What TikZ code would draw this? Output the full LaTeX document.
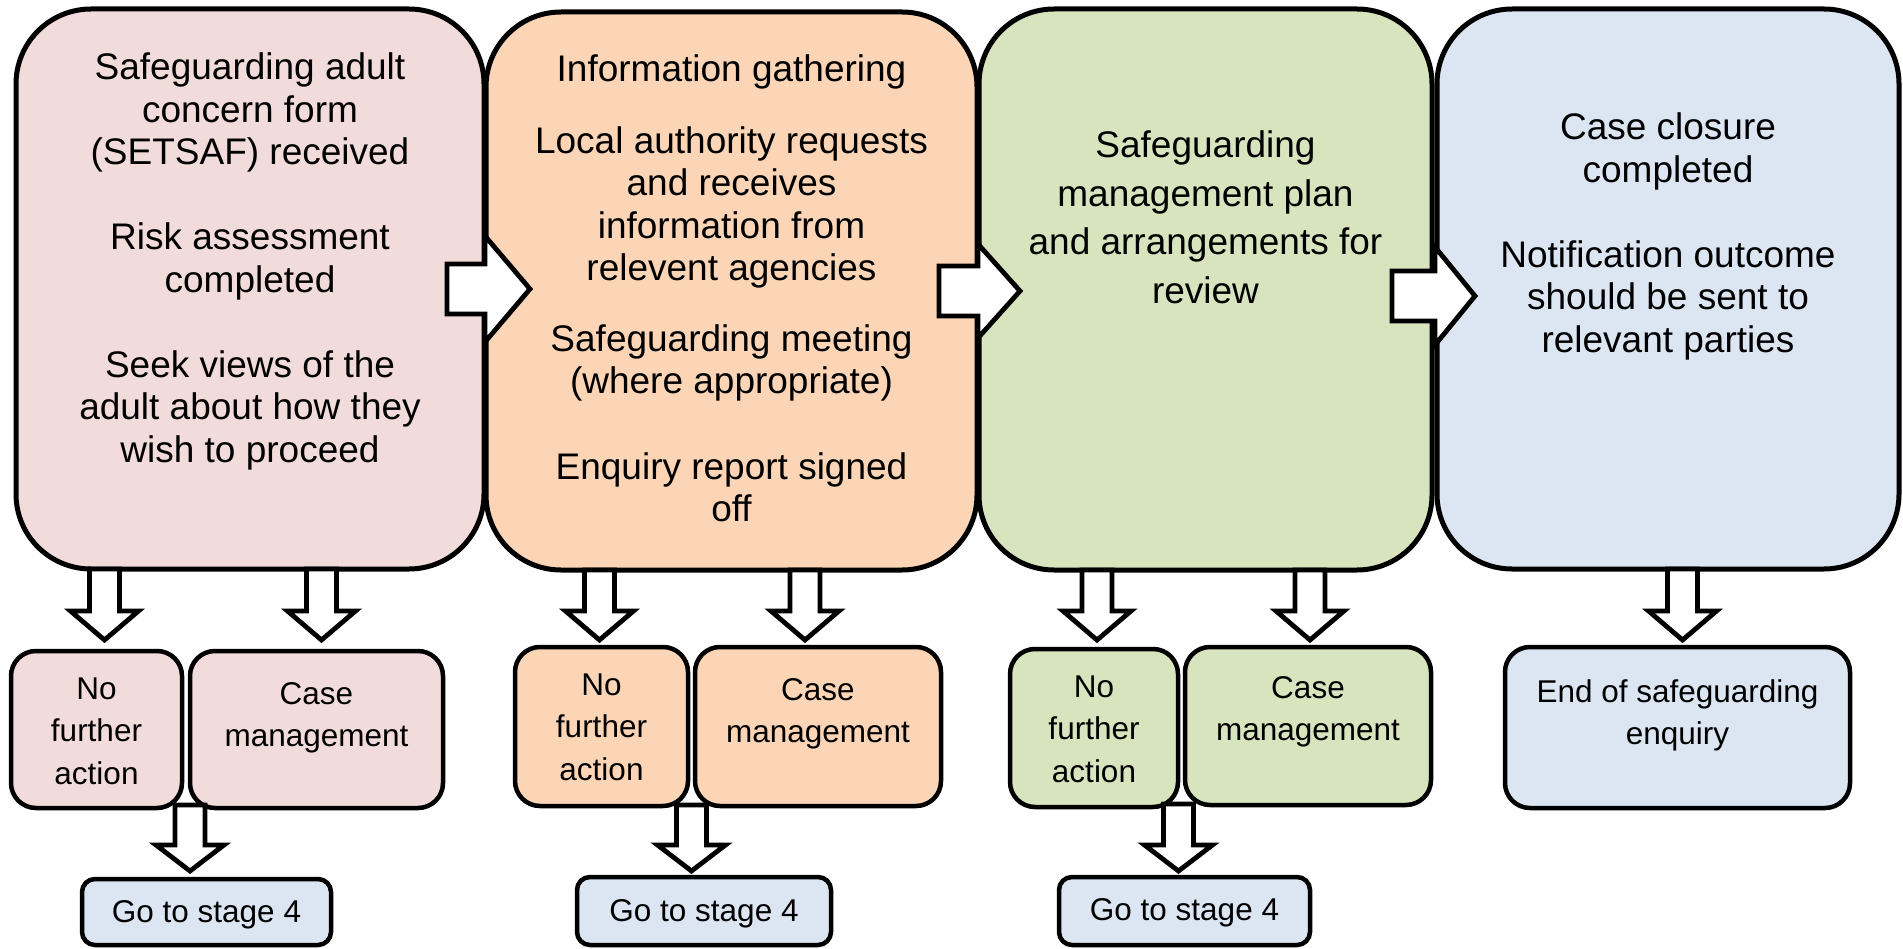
\documentclass[tikz,border=0pt]{standalone}
\usepackage{fontspec}
\setmainfont{Liberation Sans}
\usetikzlibrary{calc}
\definecolor{pinkF}{HTML}{F2DCDB}
\definecolor{orangeF}{HTML}{FBD5B5}
\definecolor{greenF}{HTML}{D7E4BD}
\definecolor{blueF}{HTML}{DCE6F2}
\newcommand\BoxFontL{\fontsize{37}{42.5}\selectfont}
\newcommand\BoxFontM{\fontsize{37}{48.5}\selectfont}
\newcommand\BoxFontS{\fontsize{31.5}{42.5}\selectfont}
\newcommand\BoxLines[1]{\begin{tabular}[t]{@{}c@{}}#1\end{tabular}}
\tikzset{
  bigbox/.style={draw=black, line width=5pt, rounded corners=75pt, inner sep=0pt, outer sep=0pt, anchor=north west, font=\BoxFontL},
  smallbox/.style={draw=black, line width=4.5pt, rounded corners=25pt, inner sep=0pt, outer sep=0pt, anchor=north west, font=\BoxFontS},
  gobox/.style={smallbox, rounded corners=13pt, fill=blueF},
  blockdown/.style n args={3}{draw=black, line width=4.8pt, fill=white, line join=miter,
    to path={let \p1=(\tikztostart), \p2=(\tikztotarget) in
      ({\x1-#1},\y1) -- ({\x1+#1},\y1) -- ({\x1+#1},{\y2+#3}) -- ({\x1+#2},{\y2+#3})
      -- (\x1,\y2) -- ({\x1-#2},{\y2+#3}) -- ({\x1-#1},{\y2+#3}) -- cycle}},
  blockright/.style n args={3}{draw=black, line width=4.8pt, fill=white, line join=miter,
    to path={let \p1=(\tikztostart), \p2=(\tikztotarget) in
      (\x1,{\y1+#1}) -- ({\x2-#3},{\y1+#1}) -- ({\x2-#3},{\y1+#2}) -- (\x2,\y1)
      -- ({\x2-#3},{\y1-#2}) -- ({\x2-#3},{\y1-#1}) -- (\x1,{\y1-#1}) -- cycle}},
}
\begin{document}
\begin{tikzpicture}[x=1pt,y=-1pt]
\fill[white] (0,0) rectangle (1903,949);
\useasboundingbox (0,0) rectangle (1903,949);

% stage boxes
\node[bigbox, fill=pinkF, minimum width=468pt, text height=71pt, text depth=489pt] (b1) at (16,9)
  {\BoxLines{Safeguarding adult\\concern form\\(SETSAF) received\\[42.5pt]Risk assessment\\completed\\[42.5pt]Seek views of the\\adult about how they\\wish to proceed}};
\node[bigbox, fill=orangeF, minimum width=491pt, text height=70pt, text depth=488pt] (b2) at (486,12)
  {\BoxLines{Information gathering\\[29pt]Local authority requests\\and receives\\information from\\relevent agencies\\[28pt]Safeguarding meeting\\(where appropriate)\\[43pt]Enquiry report signed\\off}};
\node[bigbox, font=\BoxFontM, fill=greenF, minimum width=453pt, text height=149pt, text depth=412pt] (b3) at (979,9)
  {\BoxLines{Safeguarding\\management plan\\and arrangements for\\review}};
\node[bigbox, fill=blueF, minimum width=462pt, text height=131pt, text depth=429pt] (b4) at (1437,9)
  {\BoxLines{Case closure\\completed\\[42.5pt]Notification outcome\\should be sent to\\relevant parties}};

% outcome boxes
\node[smallbox, fill=pinkF, minimum width=171pt, text height=48pt, text depth=109pt] (n1) at (11,651)
  {\BoxLines{No\\further\\action}};
\node[smallbox, fill=pinkF, minimum width=253pt, text height=53pt, text depth=104pt] (c1) at (190,651)
  {\BoxLines{Case\\management}};
\node[smallbox, fill=orangeF, minimum width=173pt, text height=48pt, text depth=111pt] (n2) at (515,647)
  {\BoxLines{No\\further\\action}};
\node[smallbox, fill=orangeF, minimum width=246pt, text height=53pt, text depth=106pt] (c2) at (695,647)
  {\BoxLines{Case\\management}};
\node[smallbox, fill=greenF, minimum width=168pt, text height=48pt, text depth=110pt] (n3) at (1010,649)
  {\BoxLines{No\\further\\action}};
\node[smallbox, fill=greenF, minimum width=246pt, text height=51pt, text depth=107pt] (c3) at (1185,647)
  {\BoxLines{Case\\management}};
\node[smallbox, fill=blueF, minimum width=345pt, text height=55pt, text depth=106pt] (e4) at (1505,647)
  {\BoxLines{End of safeguarding\\enquiry}};

% go to stage 4 boxes
\node[gobox, minimum width=249pt, text height=43pt, text depth=23pt] (g1) at (82,879) {Go to stage 4};
\node[gobox, minimum width=254pt, text height=44pt, text depth=24pt] (g2) at (577,877) {Go to stage 4};
\node[gobox, minimum width=251pt, text height=43pt, text depth=25pt] (g3) at (1059,877) {Go to stage 4};

% junctions between outcome boxes
\coordinate (j1) at ($(n1.south east)!0.5!(c1.south west)$);
\coordinate (j2) at ($(n2.south east)!0.5!(c2.south west)$);
\coordinate (j3) at ($(n3.south east)!0.5!(c3.south west)$);

% right block arrows
\draw[blockright={25pt}{53pt}{45pt}] ([xshift=-37pt]b1.east) to ([xshift=44pt]b2.west);
\draw[blockright={25pt}{47pt}{42pt}] ([xshift=-38pt]b2.east) to ([xshift=41pt]b3.west);
\draw[blockright={25pt}{49pt}{40pt}] ([xshift=-40pt,yshift=-6.5pt]b3.east) to ([xshift=38pt]b4.west);

% down block arrows
\draw[blockdown={15pt}{34pt}{29pt}] ($(b1.south -| n1.north)+(8,0)$) to ([yshift=11pt]n1.north);
\draw[blockdown={15pt}{34pt}{29pt}] ($(b1.south -| c1.north)+(5,0)$) to ([yshift=11pt]c1.north);
\draw[blockdown={15pt}{34pt}{29pt}] ($(b2.south -| n2.north)+(-2,0)$) to ([yshift=7pt]n2.north);
\draw[blockdown={15pt}{34pt}{29pt}] ($(b2.south -| c2.north)+(-13,0)$) to ([yshift=7pt]c2.north);
\draw[blockdown={15pt}{34pt}{29pt}] ($(b3.south -| n3.north)+(3,0)$) to ([yshift=9pt]n3.north);
\draw[blockdown={15pt}{34pt}{29pt}] ($(b3.south -| c3.north)+(2,0)$) to ([yshift=7pt]c3.north);
\draw[blockdown={15pt}{34pt}{29pt}] ($(b4.south -| e4.north)+(5,0)$) to ([yshift=7pt]e4.north);

% go arrows
\draw[blockdown={15pt}{34pt}{26pt}] ($(j1)+(4,-3)$) to ([yshift=8pt]g1.north);
\draw[blockdown={15pt}{34pt}{26pt}] ($(j2)+(0,-1)$) to ([yshift=6pt]g2.north);
\draw[blockdown={15pt}{34pt}{26pt}] ($(j3)+(-3,-2)$) to ([yshift=6pt]g3.north);
\end{tikzpicture}
\end{document}
